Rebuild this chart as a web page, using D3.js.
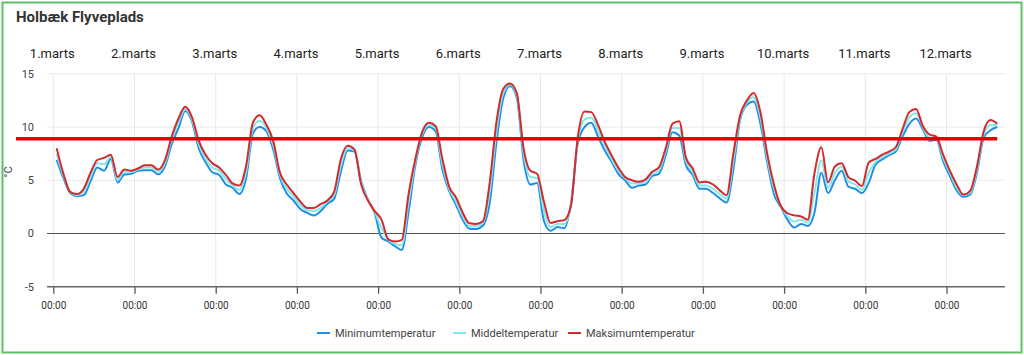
<!DOCTYPE html>
<html><head><meta charset="utf-8">
<script src="https://cdn.jsdelivr.net/npm/d3@7"></script>
<style>
body{margin:0;background:#fff;}
svg{display:block;font-family:Roboto, "Noto Sans", sans-serif;}
</style>
</head><body>
<svg id="chart" width="1024" height="355"></svg>
<script>
const title = "Holbæk Flyveplads";
const dayLabels = ["1.marts","2.marts","3.marts","4.marts","5.marts","6.marts","7.marts","8.marts","9.marts","10.marts","11.marts","12.marts"];
const yTicks = [-5, 0, 5, 10, 15];
const yUnit = "°C";
const threshold = 8.9;
const startHour = 1;   // first reading: 1 March 01:00
const stepHours = 2;   // one reading every 2 hours
const seriesNames = ["Minimumtemperatur", "Middeltemperatur", "Maksimumtemperatur"];

const minTemp = [
 6.9, 5.2, 3.8, 3.5, 3.6, 4.9, 6.2, 5.9, 7.0, 4.8,
 5.55, 5.6, 5.9, 5.95, 5.95, 5.55, 6.3, 8.4, 9.9, 11.5,
 10.5, 8.0, 6.7, 5.75, 5.5, 4.6, 4.3, 3.7, 5.2, 9.4,
 10.0, 9.6, 7.9, 5.2, 3.75, 3.1, 2.3, 1.95, 1.7, 2.1,
 2.8, 3.25, 5.8, 7.8, 7.7, 4.9, 3.2, 1.9, -0.4, -0.75,
 -1.2, -1.55, 2.0, 6.4, 9.0, 10.0, 9.6, 6.0, 4.0, 2.7,
 1.3, 0.45, 0.43, 0.75, 2.9, 8.6, 12.7, 13.85, 12.75, 6.9,
 4.6, 4.75, 1.2, 0.25, 0.6, 0.5, 2.8, 8.4, 10.0, 10.4,
 9.1, 7.8, 6.75, 5.6, 5.0, 4.3, 4.5, 4.6, 5.4, 5.6,
 7.3, 9.5, 9.2, 6.4, 5.5, 4.2, 4.2, 3.8, 3.3, 2.9,
 6.0, 10.7, 12.1, 12.4, 10.3, 6.7, 3.7, 2.5, 1.3, 0.55,
 0.9, 0.7, 2.0, 5.7, 3.8, 5.0, 5.9, 4.4, 4.2, 3.8,
 4.75, 6.45, 6.95, 7.35, 7.7, 9.1, 10.3, 10.8, 9.8, 8.7,
 8.8, 6.8, 5.4, 4.05, 3.45, 3.65, 5.7, 9.0, 9.7, 10.0
];
const meanTemp = [
 7.5, 5.4, 3.9, 3.6, 3.9, 5.3, 6.6, 6.5, 7.2, 5.0,
 5.8, 5.8, 6.0, 6.2, 6.2, 5.8, 6.6, 8.8, 10.4, 11.7,
 10.7, 8.4, 7.0, 6.2, 5.9, 5.1, 4.5, 4.1, 5.8, 9.9,
 10.6, 9.9, 8.3, 5.5, 4.2, 3.5, 2.7, 2.2, 2.1, 2.4,
 3.0, 3.6, 6.4, 8.0, 7.8, 4.8, 3.2, 2.0, 0.5, -0.6,
 -1.0, -1.1, 2.9, 6.7, 9.3, 10.2, 9.9, 6.5, 4.2, 3.0,
 1.6, 0.7, 0.7, 1.0, 3.9, 9.6, 13.2, 14.0, 13.0, 7.5,
 5.3, 5.2, 2.1, 0.6, 0.9, 0.9, 2.7, 8.7, 10.7, 10.9,
 9.7, 8.2, 7.0, 5.9, 5.2, 4.7, 4.7, 4.8, 5.6, 5.9,
 7.7, 9.9, 9.9, 6.8, 5.8, 4.5, 4.5, 4.2, 3.7, 3.3,
 6.8, 10.9, 12.3, 12.8, 10.9, 7.1, 4.2, 2.6, 1.6, 1.1,
 1.3, 1.0, 3.9, 6.9, 4.3, 5.7, 6.3, 4.9, 4.6, 4.1,
 5.7, 6.7, 7.2, 7.5, 7.9, 9.5, 10.9, 11.3, 10.0, 9.0,
 9.0, 7.1, 5.7, 4.3, 3.6, 3.8, 6.0, 9.3, 10.2, 10.2
];
const maxTemp = [
 8.0, 5.6, 3.9, 3.7, 4.2, 5.7, 6.9, 7.1, 7.4, 5.3,
 6.0, 5.9, 6.1, 6.4, 6.4, 6.0, 6.9, 9.1, 10.8, 11.9,
 10.9, 8.7, 7.4, 6.6, 6.2, 5.5, 4.7, 4.5, 6.4, 10.4,
 11.1, 10.2, 8.7, 5.7, 4.6, 3.8, 3.0, 2.4, 2.4, 2.75,
 3.1, 3.9, 7.0, 8.25, 7.9, 4.6, 3.1, 2.1, 1.3, -0.55,
 -0.75, -0.6, 3.7, 7.0, 9.5, 10.4, 10.1, 7.0, 4.4, 3.4,
 1.95, 0.95, 0.9, 1.15, 4.8, 10.5, 13.6, 14.1, 13.2, 8.0,
 5.9, 5.6, 3.0, 0.98, 1.15, 1.25, 2.6, 9.0, 11.45, 11.4,
 10.2, 8.6, 7.35, 6.2, 5.3, 5.0, 4.85, 5.05, 5.8, 6.2,
 8.0, 10.3, 10.55, 7.1, 6.1, 4.8, 4.85, 4.6, 4.05, 3.6,
 7.5, 11.1, 12.5, 13.2, 11.4, 7.5, 4.6, 2.6, 1.9, 1.7,
 1.6, 1.3, 5.7, 8.1, 4.8, 6.3, 6.6, 5.3, 4.95, 4.45,
 6.65, 7.0, 7.4, 7.7, 8.1, 9.8, 11.4, 11.7, 10.1, 9.3,
 9.1, 7.4, 5.9, 4.6, 3.65, 4.0, 6.3, 9.6, 10.65, 10.3
];

const colors = ["#1e8fe6", "#84e6ee", "#d42a2a"];
const seriesValues = [minTemp, meanTemp, maxTemp];

const W = 1024, H = 355;
const svg = d3.select("#chart");
const t0 = new Date(Date.UTC(2023, 2, 1, 0));
const HOUR = 3600 * 1000;
const times = minTemp.map((_, i) => new Date(t0.getTime() + (startHour + i * stepHours) * HOUR));

const dayPx = 81.2, x0 = 53.3;
const plotLeft = 47, plotRight = 1005;
const x = d3.scaleUtc()
  .domain([t0, d3.utcDay.offset(t0, 12)])
  .range([x0, x0 + 12 * dayPx]);
const y = d3.scaleLinear().domain([-5, 15]).range([286.7, 73.8]);

// frame
svg.append("rect").attr("x", 2.5).attr("y", 2.5).attr("width", W - 5).attr("height", H - 5)
  .attr("fill", "none").attr("stroke", "#5cbf6a").attr("stroke-width", 2);

// title
svg.append("text").attr("x", 16).attr("y", 22).text(title)
  .attr("font-size", 15).attr("font-weight", "bold").attr("fill", "#333");

const dayTicks = d3.utcDay.range(t0, d3.utcDay.offset(t0, 12));

// day labels at top
svg.append("g").selectAll("text").data(dayTicks).join("text")
  .attr("x", d => x(d) - 1).attr("y", 58).attr("text-anchor", "middle")
  .attr("font-size", 13).attr("fill", "#222")
  .text((d, i) => dayLabels[i]);

// horizontal grid
svg.append("g").selectAll("line").data(yTicks.filter(v => v > 0)).join("line")
  .attr("x1", plotLeft).attr("x2", plotRight)
  .attr("y1", d => y(d)).attr("y2", d => y(d))
  .attr("stroke", "#e8e8e8").attr("stroke-width", 1);

// vertical grid
svg.append("g").selectAll("line").data(dayTicks).join("line")
  .attr("x1", d => x(d)).attr("x2", d => x(d))
  .attr("y1", y(15)).attr("y2", y(-5))
  .attr("stroke", "#e8e8e8").attr("stroke-width", 1);

// zero line
svg.append("line").attr("x1", plotLeft).attr("x2", plotRight)
  .attr("y1", y(0)).attr("y2", y(0)).attr("stroke", "#555").attr("stroke-width", 1.2);

// y tick labels
svg.append("g").selectAll("text").data(yTicks).join("text")
  .attr("x", 34).attr("y", d => y(d)).attr("dy", "0.35em").attr("text-anchor", "end")
  .attr("font-size", 11).attr("fill", "#444").text(d => d);

// y unit
svg.append("text").attr("transform", "translate(12,172) rotate(-90)")
  .attr("text-anchor", "middle").attr("font-size", 11).attr("fill", "#444").text(yUnit);

// bottom axis
const xAxis = d3.axisBottom(x).tickValues(dayTicks).tickFormat(d3.utcFormat("%H:%M"))
  .tickSize(7).tickSizeOuter(0);
const gx = svg.append("g").attr("transform", `translate(0,${y(-5)})`).call(xAxis);
gx.select(".domain").remove();
gx.selectAll(".tick line").attr("stroke", "#555").attr("stroke-width", 1.3);
gx.selectAll(".tick text").attr("font-size", 10).attr("fill", "#333").attr("dy", "1.25em")
  .attr("font-family", "Roboto, sans-serif");
svg.append("line").attr("x1", plotLeft).attr("x2", plotRight)
  .attr("y1", y(-5)).attr("y2", y(-5)).attr("stroke", "#666").attr("stroke-width", 1.5);

// series lines
const line = d3.line().x((d, i) => x(times[i])).y(d => y(d)).curve(d3.curveMonotoneX);
seriesValues.forEach((vals, k) => {
  svg.append("path").datum(vals).attr("d", line)
    .attr("fill", "none").attr("stroke", colors[k]).attr("stroke-width", 2)
    .attr("stroke-linejoin", "round");
});

// threshold line
svg.append("line").attr("x1", 16).attr("x2", x(times[times.length - 1]))
  .attr("y1", y(threshold)).attr("y2", y(threshold))
  .attr("stroke", "#e80000").attr("stroke-width", 3.5);

// legend
const legendX = [317, 453, 568];
const lg = svg.append("g");
seriesNames.forEach((name, k) => {
  lg.append("line").attr("x1", legendX[k]).attr("x2", legendX[k] + 13)
    .attr("y1", 333).attr("y2", 333).attr("stroke", colors[k]).attr("stroke-width", 2);
  lg.append("text").attr("x", legendX[k] + 18).attr("y", 333).attr("dy", "0.35em")
    .attr("font-size", 11).attr("fill", "#444").text(name);
});
</script>
</body></html>
